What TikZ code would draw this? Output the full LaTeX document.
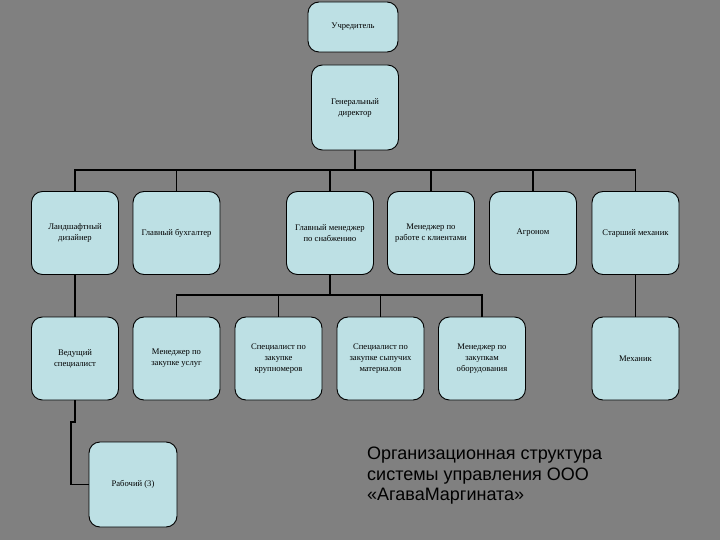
\documentclass[tikz,border=0pt]{standalone}
\usepackage{fontspec}
\setmainfont{Liberation Serif}
\newfontfamily\capfont{Liberation Sans}
\usepackage{tikz}
\usepackage{xcolor}
\usetikzlibrary{positioning}
\definecolor{bggray}{HTML}{808080}
\definecolor{boxfill}{HTML}{BDE0E4}

\begin{document}
\begin{tikzpicture}[x=1pt,y=-1pt,every node/.style={font=\fontsize{8.6}{11}\selectfont}]
   \tikzstyle{post}=[draw=black, fill=boxfill, rounded corners=11pt, line width=0.9pt,
      minimum width=87pt, minimum height=83pt, align=center, inner sep=2pt];
   \tikzstyle{bus}=[draw, line width=1.6pt];
   \fill[bggray] (0,0) rectangle (720,540);
   \useasboundingbox (0,0) rectangle (720,540);
   % top
   \node[post,minimum width=90pt,minimum height=50pt] (founder) at (353,27) {Учредитель};
   \node[post,minimum width=87pt,minimum height=85pt] (gd) at (355,107.5) {Генеральный\\директор};
   % second row
   \node[post] (land)  at (75,233)    {Ландшафтный\\дизайнер};
   \node[post] (acc)   at (176.5,233) {Главный бухгалтер};
   \node[post] (supp)  at (330,233)   {Главный менеджер\\по снабжению};
   \node[post] (cli)   at (431,233)   {Менеджер по\\работе с клиентами};
   \node[post] (agro)  at (533,233)   {Агроном};
   \node[post] (smech) at (635.5,233) {Старший механик};
   % third row
   \node[post] (lead)  at (75,358.5)    {Ведущий\\специалист};
   \node[post] (serv)  at (176.5,358.5) {Менеджер по\\закупке услуг};
   \node[post] (big)   at (278.5,358.5) {Специалист по\\закупке\\крупномеров};
   \node[post] (bulk)  at (380.5,358.5) {Специалист по\\закупке сыпучих\\материалов};
   \node[post] (equip) at (482,358.5)   {Менеджер по\\закупкам\\оборудования};
   \node[post] (mech)  at (635.5,358.5) {Механик};
   \node[post,minimum width=88pt,minimum height=85pt] (work) at (133,484.5) {Рабочий (3)};
   % buses
   \coordinate (b1) at (355,170);
   \coordinate (b2) at (330,295);
   \draw[bus] (gd.south) -- (b1);
   \draw[bus] (land.north) |- (b1) -| (smech.north);
   \foreach \n in {acc,supp,cli,agro}
      \draw[bus] (\n.north) -- (\n.north |- b1);
   \draw[bus] (supp.south) -- (b2);
   \draw[bus] (serv.north) |- (b2) -| (equip.north);
   \foreach \n in {big,bulk}
      \draw[bus] (\n.north) -- (\n.north |- b2);
   \draw[bus] (land.south) -- (lead.north);
   \draw[bus] (smech.south) -- (mech.north);
   \draw[bus] (lead.south) -- (75,422) -- (71,422) |- (work.west);
   % caption
   \node[anchor=north west,align=left,inner sep=0pt,
         font=\capfont\fontsize{18}{20.5}\selectfont] (cap) at (367,447)
     {Организационная структура\\системы управления ООО\\«АгаваМаргината»};
\end{tikzpicture}
\end{document}
